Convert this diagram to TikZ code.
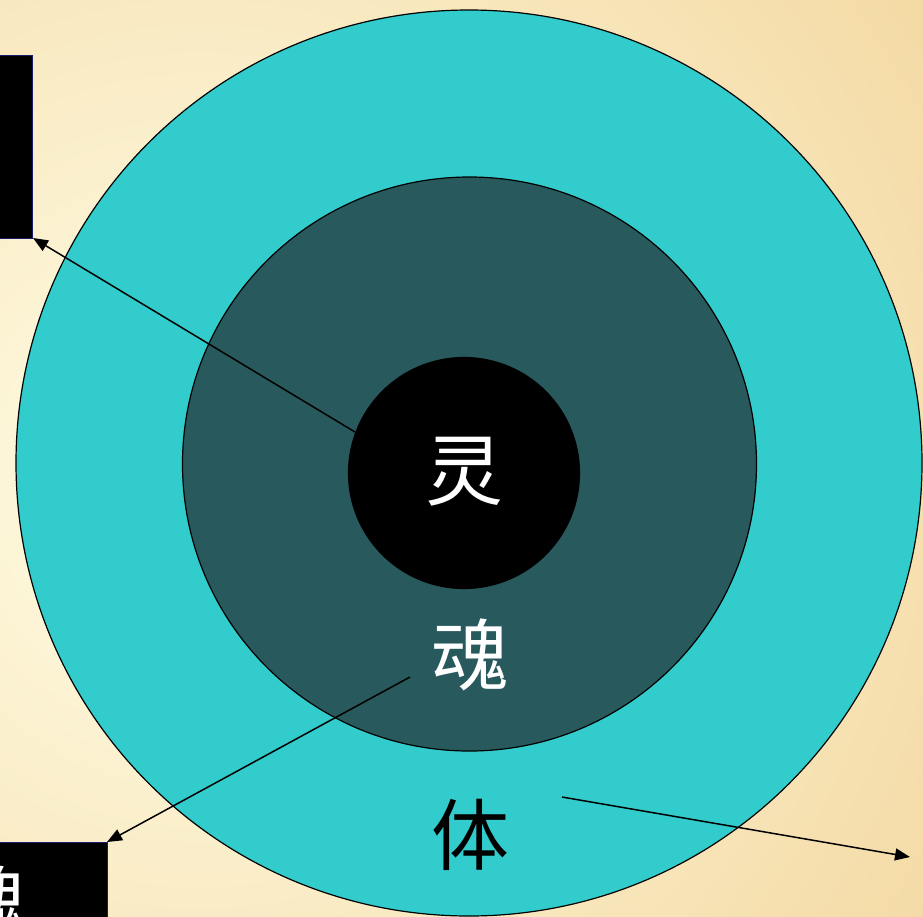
\documentclass[tikz,border=0pt]{standalone}
\usepackage{fontspec}
\newfontfamily\cjk{Noto Sans CJK SC}
\usetikzlibrary{arrows.meta}
\definecolor{bgin}{HTML}{FFFDE6}
\definecolor{bgout}{HTML}{E9B865}
\definecolor{outerc}{HTML}{33CCCC}
\definecolor{midc}{HTML}{27595D}
\definecolor{boxedge}{HTML}{1A1A6E}
\tikzset{
  ring/.style={circle, draw=black, line width=1.2pt, inner sep=0pt},
  blackbox/.style={fill=black, draw=boxedge, line width=1pt},
  conn/.style={draw=black, line width=1.5pt, -{Triangle[length=15pt,width=12pt]}},
  bigtxt/.style={font=\cjk\fontsize{78}{80}\selectfont, inner sep=0pt}
}
\begin{document}
\begin{tikzpicture}[x=1pt,y=-1pt]
\useasboundingbox (0,0) rectangle (923,916);
\clip (0,0) rectangle (923,916);
\shade[inner color=bgin, outer color=bgout] (-1500,-1220) rectangle (1900,2180);
% boxes
\path[blackbox] (-20,55) rectangle (32,238);
\coordinate (boxA) at (33,238);
\path[blackbox] (-60,842) rectangle (107,960);
\node[bigtxt, text=white] (boxBtxt) at (-12,902) {魂};
\coordinate (boxB) at (107,842);
% circles
\node[ring, fill=outerc, minimum size=906pt] (body) at (469,463) {};
\node[ring, fill=midc, minimum size=574pt] (soul) at (469.5,464) {};
\node[ring, fill=black, minimum size=231pt] (spirit) at (464,473) {};
\node[bigtxt, text=white] (ling) at (464,472) {灵};
\node[bigtxt, text=white] (hun) at (470,655) {魂};
\node[bigtxt, text=black] (ti) at (470,835) {体};
% connectors
\coordinate (s1) at (355,432);
\coordinate (s2) at (410,677);
\coordinate (s3) at (562,797);
\coordinate (endC) at (910,857);
\draw[conn] (s1) -- (boxA);
\draw[conn] (s2) -- (boxB);
\draw[conn] (s3) -- (endC);
\end{tikzpicture}
\end{document}
